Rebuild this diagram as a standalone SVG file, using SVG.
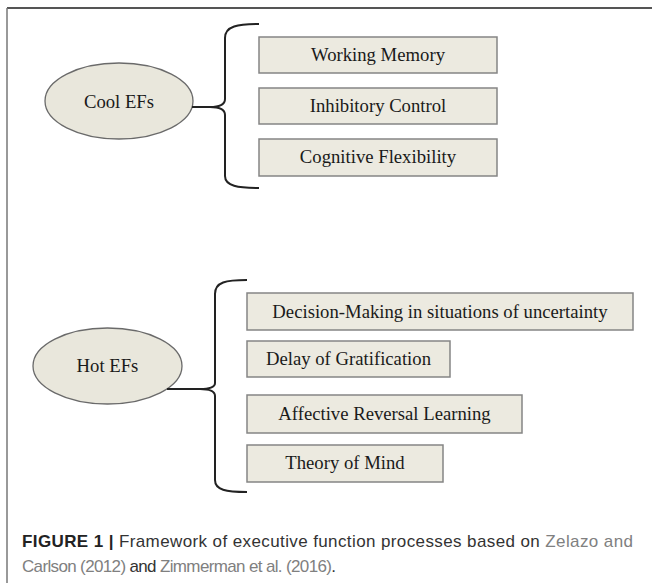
<svg xmlns="http://www.w3.org/2000/svg" width="652" height="583" viewBox="0 0 652 583">
<style>
.box{fill:#ECEAE0;stroke:#858585;stroke-width:1.5}
.ell{fill:#E9E7DC;stroke:#6a6a6a;stroke-width:1.3}
.t{font-family:"Liberation Serif","Times New Roman",serif;font-size:18.7px;fill:#1a1a1a;text-anchor:middle}
.brace{fill:none;stroke:#222;stroke-width:2}
.cap{font-family:"Liberation Sans",Arial,sans-serif;font-size:17px;fill:#333}
.lnk{fill:#808080}
</style>
<rect width="652" height="583" fill="#fff"/>
<g id="frame">
<line x1="7" y1="8" x2="652" y2="8" stroke="#555" stroke-width="2"/>
<line x1="7" y1="8" x2="7" y2="583" stroke="#777" stroke-width="1.5"/>
</g>
<g id="cool">
<ellipse class="ell" cx="119" cy="101" rx="74" ry="38"/>
<text class="t" x="119" y="108">Cool EFs</text>
</g>
<g id="wm"><rect class="box" x="259" y="37" width="238" height="36"/><text class="t" x="378" y="61">Working Memory</text></g>
<g id="ic"><rect class="box" x="259" y="88" width="238" height="36"/><text class="t" x="378" y="112">Inhibitory Control</text></g>
<g id="cf"><rect class="box" x="259" y="139" width="238" height="37"/><text class="t" x="378" y="163">Cognitive Flexibility</text></g>
<g id="hot">
<ellipse class="ell" cx="107.5" cy="366" rx="74.5" ry="38"/>
<text class="t" x="107.5" y="372">Hot EFs</text>
</g>
<g id="dm"><rect class="box" x="247" y="293" width="386" height="37"/><text class="t" x="440" y="318">Decision-Making in situations of uncertainty</text></g>
<g id="dg"><rect class="box" x="247" y="341" width="203" height="36"/><text class="t" x="348.5" y="365">Delay of Gratification</text></g>
<g id="arl"><rect class="box" x="247" y="395" width="275" height="38"/><text class="t" x="384.5" y="420">Affective Reversal Learning</text></g>
<g id="tom"><rect class="box" x="247" y="445" width="196" height="37"/><text class="t" x="345" y="469">Theory of Mind</text></g>
<g id="connectors">
<path class="brace" d="M259,24 C238,24 225,26 225,38 L225,99 C225,104 220,107 210,107 C220,107 225,110 225,115 L225,176 C225,186 238,188 259,188"/>
<line class="brace" x1="192" y1="107" x2="211" y2="107"/>
<path class="brace" d="M247,280 C226,280 215,282 215,294 L215,383 C215,387 210,389 200,389 C210,389 215,392 215,396 L215,480 C215,490 226,492 247,492"/>
<line class="brace" x1="167" y1="389" x2="201" y2="389"/>
</g>
<g id="caption">
<text class="cap" x="22" y="547" textLength="611"><tspan font-weight="bold" fill="#222">FIGURE 1 | </tspan>Framework of executive function processes based on <tspan class="lnk">Zelazo and</tspan></text>
<text class="cap" x="22" y="572" textLength="314"><tspan class="lnk">Carlson (2012)</tspan> and <tspan class="lnk">Zimmerman et al. (2016)</tspan>.</text>
</g>
</svg>
